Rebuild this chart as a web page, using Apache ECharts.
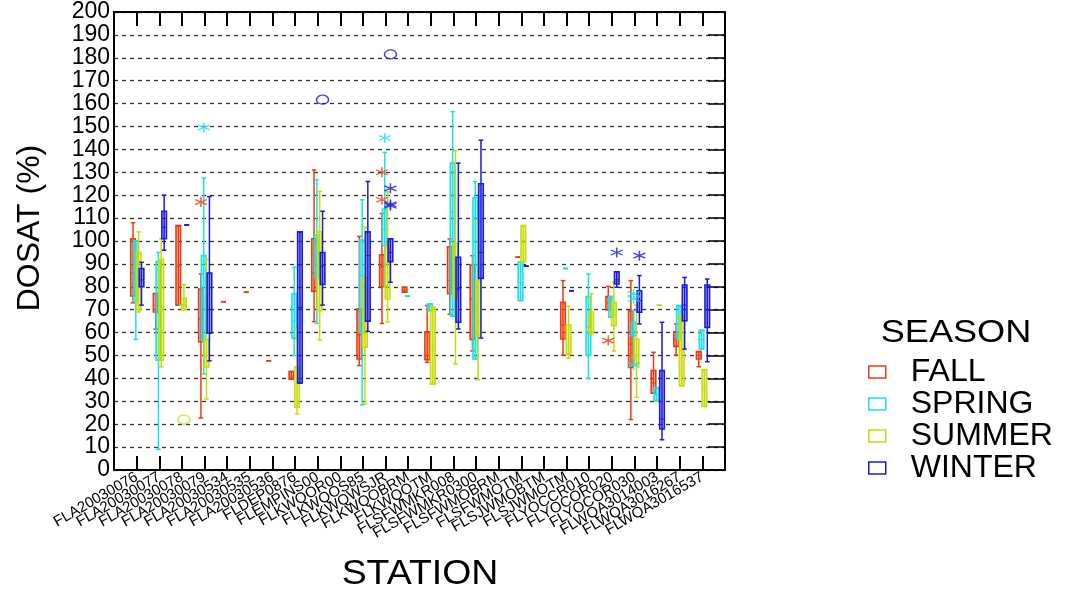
<!DOCTYPE html>
<html>
<head>
<meta charset="utf-8">
<script src="https://cdn.jsdelivr.net/npm/echarts@6/dist/echarts.min.js"></script>
<style>html,body{margin:0;padding:0;background:#fff}#c{width:1083px;height:595px}</style>
</head>
<body>
<div id="c"></div>
<script>
// Categories (stations)
const stations = ['FLA20030076','FLA20030077','FLA20030078','FLA20030079','FLA20030534','FLA20030535','FLA20030536','FLDEP0876','FLEMPINS00','FLKWQOR00','FLKWQOS85','FLKWQWSJR','FLKWQOBRM','FLKWQOTM','FLSFWMKR008','FLSFWMKR0300','FLSFWMOBRM','FLSFWMOTM','FLSJWMOBTM','FLSJWMOTM','FLYOCCR010','FLYOCOR020','FLYOCOR030','FLWQA3014003','FLWQA3016267','FLWQA3016537'];
const seasons = ['FALL','SPRING','SUMMER','WINTER'];
const yTicks = {min: 0, max: 200, interval: 10};

// [station, min, Q1, median, Q3, max]
const fall = [
  ['FLA20030076',73,76,86,101,108],['FLA20030077',61.5,69,72,77,77],['FLA20030078',72,72,89,106.7,106.7],
  ['FLA20030079',22.7,56,66,79,85.6],['FLA20030534',73.5,73.5,73.5,73.5,73.5],['FLA20030535',77.6,77.6,77.6,77.6,77.6],
  ['FLA20030536',47.7,47.7,47.7,47.7,47.7],['FLDEP0876',39.7,39.7,41,43,43],['FLEMPINS00',64.8,78,86,101,131],
  ['FLKWQOS85',45.6,48.5,59,70.3,102],['FLKWQWSJR',64,80,89,94,112],['FLKWQOBRM',77.6,77.6,78.5,79.8,79.8],
  ['FLKWQOTM',47,48.2,50,60.4,71.8],['FLSFWMKR008',68,77,82.7,97.5,100.9],['FLSFWMKR0300',52,57,74.7,89.5,93.6],
  ['FLSFWMOTM',92.9,92.9,92.9,92.9,92.9],['FLSJWMOTM',50.2,57.2,63.3,73.2,82.7],['FLYOCOR020',70,70,73,75.7,80.2],
  ['FLYOCOR030',22,44.8,55,69.6,82.7],['FLWQA3014003',33.5,33.5,38,43.4,51.4],['FLWQA3016267',50.2,54,57,60.4,63.8],
  ['FLWQA3016537',45.1,48.5,50,51.7,51.7]
];
const spring = [
  ['FLA20030076',57,73.5,80,100,100],['FLA20030077',9,48,87,91,95],['FLA20030078',72,72,72,72,72],
  ['FLA20030079',42,56.5,75,93.6,127.5],['FLDEP0876',50,57.5,65,77,88.5],['FLEMPINS00',64,84,95,102.6,126.8],
  ['FLKWQOS85',28.4,60,85,100.4,118],['FLKWQWSJR',80.5,98,105,114,138.7],['FLKWQOBRM',76,76,76,76,76],
  ['FLKWQOTM',69.6,69.6,71,72.5,72.5],['FLSFWMKR008',67,67.4,112.5,134,156.5],['FLSFWMKR0300',48.5,48.5,99.4,119,126],
  ['FLSFWMOTM',74,74,82,90.7,90.7],['FLSJWMOTM',88,88,88,88,88],['FLYOCCR010',40,50,62.3,75.7,85.6],
  ['FLYOCOR020',66.7,66.7,70,75.7,75.7],['FLYOCOR030',49,58.7,61,64.5,69.6],['FLWQA3014003',30.3,30.3,33,36,36],
  ['FLWQA3016267',57,57,64,71.8,71.8],['FLWQA3016537',52.8,52.8,57,61,61]
];
const summer = [
  ['FLA20030076',69,70,85,95,104],['FLA20030077',45,48,70,92,101],['FLA20030078',70,70,72,75,81],
  ['FLA20030079',31,45,50,57,92],['FLDEP0876',24.5,27.4,29,45,62],['FLEMPINS00',56.8,69.6,84,104,121.7],
  ['FLKWQOS85',28.8,53.6,60,84,106],['FLKWQWSJR',64.6,74.7,86,98,121.5],['FLKWQOTM',37.5,37.5,54,71,71],
  ['FLSFWMKR008',46.3,75,85,99,139.4],['FLSFWMKR0300',39.4,58.7,65,82.7,108],['FLSFWMOTM',91,91,99.4,106.7,106.7],
  ['FLSJWMOTM',48.8,50.7,54.3,63.3,71.5],['FLYOCCR010',59.4,60,62,69,77],['FLYOCOR020',52,63,68,73.2,82.2],
  ['FLYOCOR030',31.7,45.9,50,57.2,72],['FLWQA3014003',72,72,72,72,72],['FLWQA3016267',36.8,36.8,52,67.7,67.7],
  ['FLWQA3016537',27.8,27.8,36,43.8,43.8]
];
const winter = [
  ['FLA20030076',72,80,83,88,90.7],['FLA20030077',96,101,106,113,120],['FLA20030078',107,107,107,107,107],
  ['FLA20030079',47.7,59.7,70,86,119.4],['FLDEP0876',38,38,71,104,104],['FLEMPINS00',72,81,89,95,113],
  ['FLKWQOS85',60.5,65,93.6,104,126],['FLKWQWSJR',82,91,95,101,101],['FLSFWMKR008',61.6,64.5,79,92.9,134],
  ['FLSFWMKR0300',57.6,83.7,95,125,144],['FLSFWMOTM',89,89,89,89,89],['FLSJWMOTM',78.3,78.3,78.3,78.3,78.3],
  ['FLYOCOR020',79.8,81.2,83,86.6,86.6],['FLYOCOR030',63.8,68.9,74,78.3,84.9],['FLWQA3014003',13.2,17.9,22.3,43.4,64.5],
  ['FLWQA3016267',52.8,65.2,72,80.8,84.1],['FLWQA3016537',47.3,62.3,70,80.8,83.4]
];
// outliers (asterisk) and far outliers (circle): [station, value]
const fallOut = [['FLA20030079',117],['FLKWQWSJR',130],['FLKWQWSJR',118],['FLYOCOR020',56.5]];
const springOut = [['FLA20030079',149.6],['FLKWQWSJR',145],['FLYOCOR030',76.9],['FLYOCOR030',74.7],['FLYOCOR030',45.9]];
const summerOut = [];
const winterOut = [['FLKWQWSJR',123],['FLKWQWSJR',116],['FLKWQWSJR',115.4],['FLYOCOR020',95],['FLYOCOR030',93.6]];
const fallFar = [];
const springFar = [];
const summerFar = [['FLA20030078',22]];
const winterFar = [['FLEMPINS00',161.7],['FLKWQWSJR',181.5]];

// styling
const colors = ['#ee3a12','#1ee0e8','#c8dc0a','#1a1ae0'];
const fills = ['rgba(238,58,18,0.3)','rgba(30,224,232,0.3)','rgba(200,220,10,0.3)','rgba(26,26,224,0.3)'];
const offsets = [-3.6,-0.8,2.0,4.9];
const FONT = 'Liberation Sans';

const idx = name => stations.indexOf(name) + 1;
const boxData = [fall, spring, summer, winter].map(arr => arr.map(r => [idx(r[0]), r[1], r[2], r[3], r[4], r[5]]));
const outData = [fallOut, springOut, summerOut, winterOut].map(arr => arr.map(r => [idx(r[0]), r[1]]));
const farData = [fallFar, springFar, summerFar, winterFar].map(arr => arr.map(r => [idx(r[0]), r[1]]));

function makeRender(si) {
  return function (params, api) {
    const x = api.value(0);
    const pMin = api.coord([x, api.value(1)]);
    const pQ1 = api.coord([x, api.value(2)]);
    const pMd = api.coord([x, api.value(3)]);
    const pQ3 = api.coord([x, api.value(4)]);
    const pMax = api.coord([x, api.value(5)]);
    const cx = pMin[0] + offsets[si];
    const hw = 2.3;
    const st = {stroke: colors[si], lineWidth: 1.5, fill: null};
    const h = Math.max(pQ1[1] - pQ3[1], 0);
    return {
      type: 'group',
      children: [
        {type: 'line', shape: {x1: cx, y1: pMax[1], x2: cx, y2: pMin[1]}, style: st},
        {type: 'line', shape: {x1: cx - hw, y1: pMax[1], x2: cx + hw, y2: pMax[1]}, style: st},
        {type: 'line', shape: {x1: cx - hw, y1: pMin[1], x2: cx + hw, y2: pMin[1]}, style: st},
        {type: 'rect', shape: {x: cx - hw, y: pQ3[1], width: hw * 2, height: h},
          style: {stroke: colors[si], lineWidth: 1.6, fill: fills[si]}},
        {type: 'line', shape: {x1: cx - hw, y1: pMd[1], x2: cx + hw, y2: pMd[1]}, style: {stroke: colors[si], lineWidth: 1}}
      ]
    };
  };
}

const asterisk = 'path://M5,0 L5,10 M0.7,2.5 L9.3,7.5 M0.7,7.5 L9.3,2.5';
const series = [];
seasons.forEach((s, si) => {
  series.push({
    name: s, type: 'custom', renderItem: makeRender(si), data: boxData[si],
    itemStyle: {color: colors[si]}, encode: {x: 0, y: [1, 2, 3, 4, 5]}, z: 3
  });
  series.push({
    name: s, type: 'scatter', data: outData[si], symbol: asterisk, symbolSize: [12, 10],
    symbolOffset: [offsets[si], 0],
    itemStyle: {color: 'transparent', borderColor: colors[si], borderWidth: 1.4}, z: 4
  });
  series.push({
    name: s, type: 'scatter', data: farData[si], symbol: 'circle', symbolSize: [12, 9],
    symbolOffset: [offsets[si], 0],
    itemStyle: {color: 'transparent', borderColor: colors[si], borderWidth: 1.4}, z: 4
  });
});

const chart = echarts.init(document.getElementById('c'), null, {renderer: 'canvas'});
chart.setOption({
  backgroundColor: '#fff',
  animation: false,
  grid: {left: 114, right: 358, top: 12, bottom: 125},
  xAxis: [
    {type: 'value', min: 0, max: stations.length + 1, interval: 1, position: 'bottom',
     axisLine: {show: true, onZero: false, lineStyle: {color: '#000', width: 2}},
     axisTick: {show: true, inside: true, length: 14, lineStyle: {color: '#000', width: 2}},
     splitLine: {show: false},
     axisLabel: {rotate: 30, margin: 6, fontSize: 15, fontFamily: FONT, color: '#000',
       formatter: v => stations[v - 1] || ''}},
    {type: 'value', min: 0, max: stations.length + 1, interval: 1, position: 'top',
     axisLine: {show: true, onZero: false, lineStyle: {color: '#000', width: 2}},
     axisTick: {show: true, inside: true, length: 14, lineStyle: {color: '#000', width: 2}},
     axisLabel: {show: false}, splitLine: {show: false}}
  ],
  yAxis: [
    {type: 'value', min: yTicks.min, max: yTicks.max, interval: yTicks.interval, position: 'left',
     axisLine: {show: true, onZero: false, lineStyle: {color: '#000', width: 2}},
     axisTick: {show: false},
     axisLabel: {fontSize: 23, fontFamily: FONT, color: '#000', margin: 4},
     splitLine: {show: true, lineStyle: {color: '#333', type: [4, 4], width: 1.3}}},
    {type: 'value', min: yTicks.min, max: yTicks.max, interval: yTicks.interval, position: 'right',
     axisLine: {show: true, onZero: false, lineStyle: {color: '#000', width: 2}},
     axisTick: {show: true, inside: true, length: 17, lineStyle: {color: '#000', width: 1.5}},
     axisLabel: {show: false}, splitLine: {show: false}}
  ],
  legend: {
    orient: 'vertical', left: 868, top: 356, padding: 0, itemWidth: 17, itemHeight: 12, itemGap: 0,
    textStyle: {fontSize: 32, fontFamily: FONT, color: '#000', lineHeight: 23, padding: [8, 0, 0, 20]},
    data: seasons.map((s, si) => ({name: s, icon: 'rect',
      itemStyle: {color: '#fff', borderColor: colors[si], borderWidth: 1.5}}))
  },
  graphic: [
    {type: 'text', x: 30, y: 228, rotation: Math.PI / 2,
     style: {text: 'DOSAT (%)', fontSize: 32, fontFamily: FONT, fill: '#000', align: 'center', verticalAlign: 'middle'}},
    {type: 'text', x: 420, y: 574, scaleX: 1.07,
     style: {text: 'STATION', fontSize: 35, fontFamily: FONT, fill: '#000', align: 'center', verticalAlign: 'middle'}},
    {type: 'text', x: 956, y: 333, scaleX: 1.13,
     style: {text: 'SEASON', fontSize: 32, fontFamily: FONT, fill: '#000', align: 'center', verticalAlign: 'middle'}}
  ],
  series: series
});
</script>
</body>
</html>
